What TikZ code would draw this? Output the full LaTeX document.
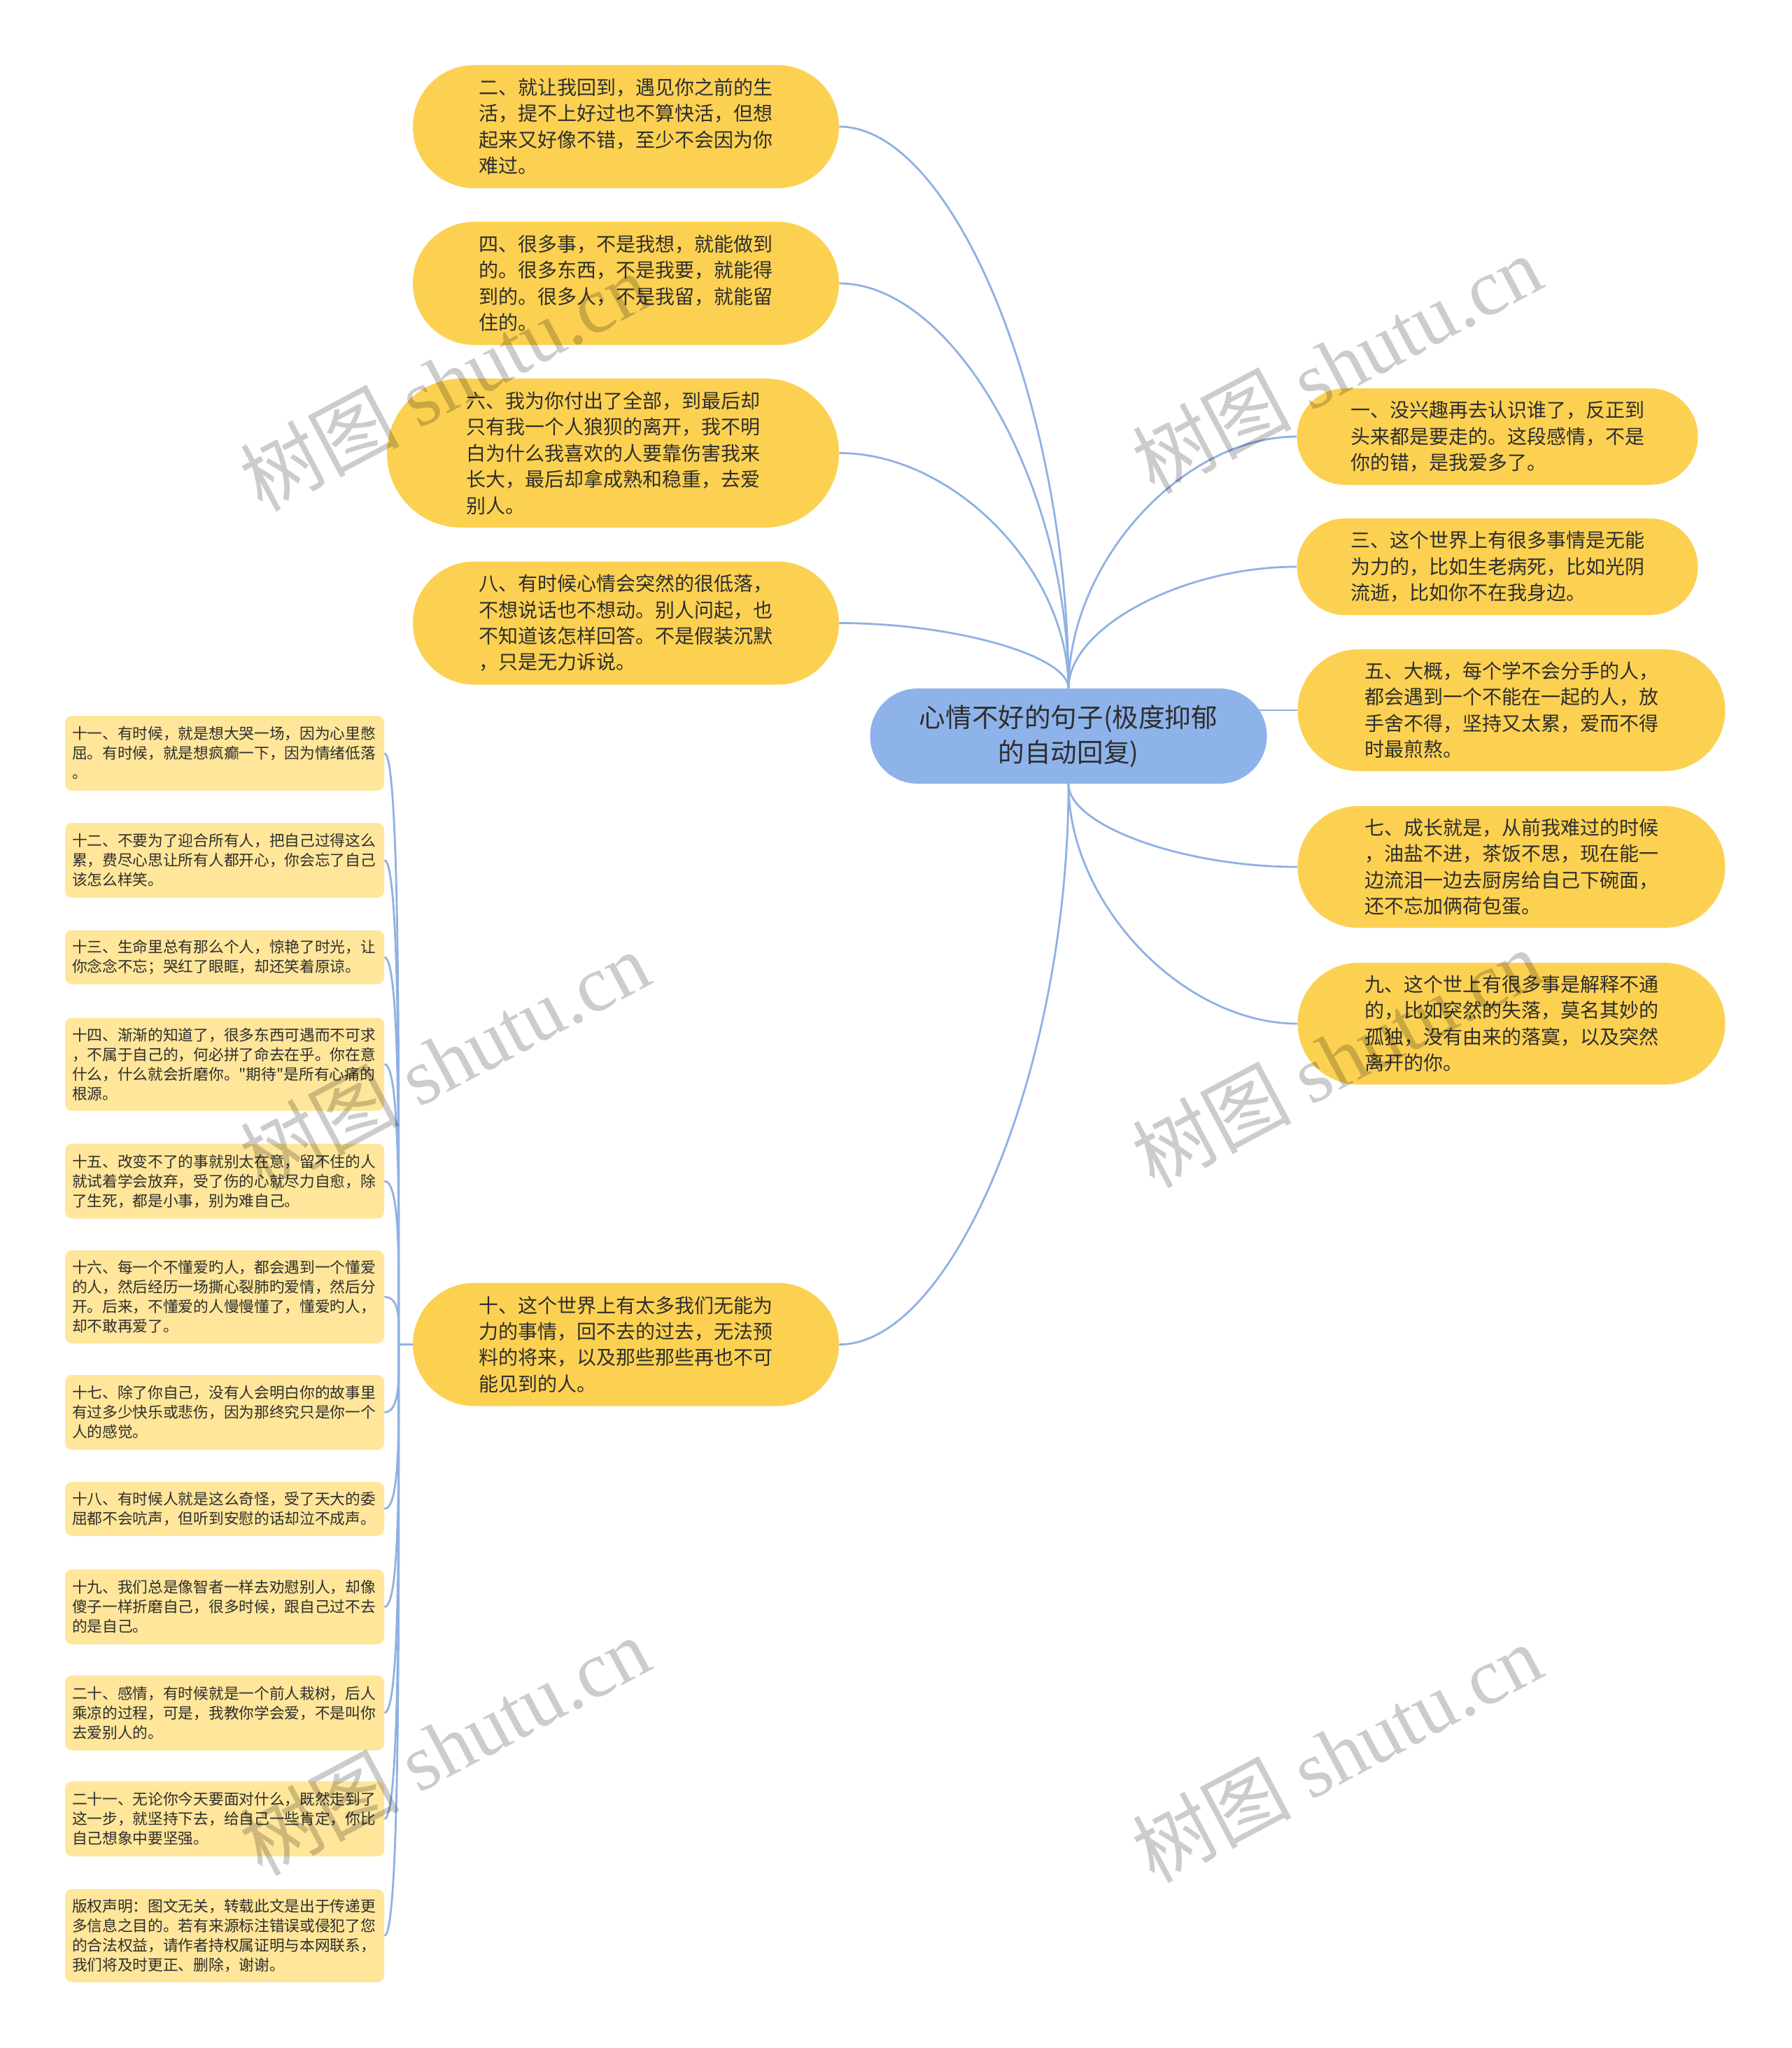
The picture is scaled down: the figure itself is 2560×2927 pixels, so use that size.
\documentclass[tikz,border=0pt]{standalone}
\usepackage{fontspec}
\setmainfont{Noto Sans CJK SC}[Ligatures=TeXOff]
\newfontfamily\wmlatin{Liberation Serif}
\usetikzlibrary{backgrounds,calc}
\definecolor{pillc}{HTML}{FCD152}
\definecolor{boxc}{HTML}{FFE69A}
\definecolor{rootc}{HTML}{8EB3EA}
\definecolor{linec}{HTML}{8FB1E3}
\definecolor{txt}{HTML}{2E2E2E}
\tikzset{
  pill/.style={fill=pillc, text=txt, align=left, inner sep=0pt,
    font=\fontsize{14pt}{18.7pt}\selectfont},
  bigpill/.style={pill, minimum width=304.5pt, minimum height=88pt, rounded corners=43.9pt},
  rpill/.style={pill, minimum width=286.5pt, minimum height=69pt, rounded corners=34.4pt},
  rbig/.style={pill, minimum width=305.5pt, minimum height=87pt, rounded corners=43.4pt},
  sbox/.style={fill=boxc, text=txt, align=left, text width=218pt, inner xsep=5pt, inner ysep=0pt,
    rounded corners=5pt, font=\fontsize{10.85pt}{14pt}\selectfont},
  s3/.style={sbox, minimum height=53.5pt},
  s2/.style={sbox, minimum height=38.5pt},
  s4/.style={sbox, minimum height=66.5pt},
  conn/.style={draw=linec, line width=1.4pt},
  wm/.style={text=black, text opacity=0.2, rotate=28, font=\fontsize{57pt}{62pt}\selectfont}
}
\begin{document}
\begin{tikzpicture}[x=0.5pt,y=-0.5pt]
\useasboundingbox (0,0) rectangle (2560,2927);

% root
\node[fill=rootc, text=txt, align=center, inner sep=0pt, minimum width=283.5pt, minimum height=68pt,
  rounded corners=33.9pt, font=\fontsize{18.8pt}{25pt}\selectfont] (root) at (1527,1052)
  {心情不好的句子(极度抑郁\\的自动回复)};

% right pills
\node[rpill] (n1) at (2140,624) {一、没兴趣再去认识谁了，反正到\\头来都是要走的。这段感情，不是\\你的错，是我爱多了。};
\node[rpill] (n3) at (2140,810) {三、这个世界上有很多事情是无能\\为力的，比如生老病死，比如光阴\\流逝，比如你不在我身边。};
\node[rbig] (n5) at (2160,1015) {五、大概，每个学不会分手的人，\\都会遇到一个不能在一起的人，放\\手舍不得，坚持又太累，爱而不得\\时最煎熬。};
\node[rbig] (n7) at (2160,1239) {七、成长就是，从前我难过的时候\\，油盐不进，茶饭不思，现在能一\\边流泪一边去厨房给自己下碗面，\\还不忘加俩荷包蛋。};
\node[rbig] (n9) at (2160,1463) {九、这个世上有很多事是解释不通\\的，比如突然的失落，莫名其妙的\\孤独，没有由来的落寞，以及突然\\离开的你。};

% left pills
\node[bigpill] (n2) at (894.5,181) {二、就让我回到，遇见你之前的生\\活，提不上好过也不算快活，但想\\起来又好像不错，至少不会因为你\\难过。};
\node[bigpill] (n4) at (894.5,405) {四、很多事，不是我想，就能做到\\的。很多东西，不是我要，就能得\\到的。很多人，不是我留，就能留\\住的。};
\node[pill, minimum width=323pt, minimum height=106.5pt, rounded corners=53.1pt] (n6) at (876,647.5)
  {六、我为你付出了全部，到最后却\\只有我一个人狼狈的离开，我不明\\白为什么我喜欢的人要靠伤害我来\\长大，最后却拿成熟和稳重，去爱\\别人。};
\node[bigpill] (n8) at (894.5,890.5) {八、有时候心情会突然的很低落，\\不想说话也不想动。别人问起，也\\不知道该怎样回答。不是假装沉默\\，只是无力诉说。};
\node[bigpill] (n10) at (894.5,1921.5) {十、这个世界上有太多我们无能为\\力的事情，回不去的过去，无法预\\料的将来，以及那些那些再也不可\\能见到的人。};
\coordinate (hub) at ([xshift=-10pt]n10.west);

% small boxes
\node[s3] (b11) at (321,1076.5) {十一、有时候，就是想大哭一场，因为心里憋\\屈。有时候，就是想疯癫一下，因为情绪低落\\。};
\node[s3] (b12) at (321,1229.5) {十二、不要为了迎合所有人，把自己过得这么\\累，费尽心思让所有人都开心，你会忘了自己\\该怎么样笑。};
\node[s2] (b13) at (321,1368) {十三、生命里总有那么个人，惊艳了时光，让\\你念念不忘；哭红了眼眶，却还笑着原谅。};
\node[s4] (b14) at (321,1521) {十四、渐渐的知道了，很多东西可遇而不可求\\，不属于自己的，何必拼了命去在乎。你在意\\什么，什么就会折磨你。"期待"是所有心痛的\\根源。};
\node[s3] (b15) at (321,1688) {十五、改变不了的事就别太在意，留不住的人\\就试着学会放弃，受了伤的心就尽力自愈，除\\了生死，都是小事，别为难自己。};
\node[s4] (b16) at (321,1853.5) {十六、每一个不懂爱旳人，都会遇到一个懂爱\\的人，然后经历一场撕心裂肺旳爱情，然后分\\开。后来，不懂爱的人慢慢懂了，懂爱旳人，\\却不敢再爱了。};
\node[s3] (b17) at (321,2018.5) {十七、除了你自己，没有人会明白你的故事里\\有过多少快乐或悲伤，因为那终究只是你一个\\人的感觉。};
\node[s2] (b18) at (321,2156.5) {十八、有时候人就是这么奇怪，受了天大的委\\屈都不会吭声，但听到安慰的话却泣不成声。};
\node[s3] (b19) at (321,2296.5) {十九、我们总是像智者一样去劝慰别人，却像\\傻子一样折磨自己，很多时候，跟自己过不去\\的是自己。};
\node[s3] (b20) at (321,2448) {二十、感情，有时候就是一个前人栽树，后人\\乘凉的过程，可是，我教你学会爱，不是叫你\\去爱别人的。};
\node[s3] (b21) at (321,2599.5) {二十一、无论你今天要面对什么，既然走到了\\这一步，就坚持下去，给自己一些肯定，你比\\自己想象中要坚强。};
\node[s4] (bcr) at (321,2766.5) {版权声明：图文无关，转载此文是出于传递更\\多信息之目的。若有来源标注错误或侵犯了您\\的合法权益，请作者持权属证明与本网联系，\\我们将及时更正、删除，谢谢。};

% connectors
\begin{scope}[on background layer]
\fill[white] (0,0) rectangle (2560,2927);
\foreach \c in {n1,n3}
  \draw[conn] (root.north) .. controls ($(root.north)!0.5!(root.north |- \c.west)$)
     and ($(\c.west)!0.5!(root.north |- \c.west)$) .. (\c.west);
\foreach \c in {n7,n9}
  \draw[conn] (root.south) .. controls ($(root.south)!0.5!(root.south |- \c.west)$)
     and ($(\c.west)!0.5!(root.south |- \c.west)$) .. (\c.west);
\draw[conn] (root.center |- n5.west) -- (n5.west);
\foreach \c in {n2,n4,n6,n8}
  \draw[conn] (root.north) .. controls ($(root.north)!0.5!(root.north |- \c.east)$)
     and ($(\c.east)!0.5!(root.north |- \c.east)$) .. (\c.east);
\draw[conn] (root.south) .. controls ($(root.south)!0.5!(root.south |- n10.east)$)
     and ($(n10.east)!0.5!(root.south |- n10.east)$) .. (n10.east);
\draw[conn] (hub) -- (n10.west);
\foreach \c/\d in {b11/-300,b12/-260,b13/-220,b14/-160,b15/-100,b16/-30,
                   b17/40,b18/100,b19/150,b20/210,b21/260,bcr/300}
  \draw[conn] (\c.east) .. controls +(24,0) and +(0,\d) .. (hub);
\end{scope}

% watermarks
\node[wm] (wm1) at (635,545) {树图 {\wmlatin shutu.cn}};
\node[wm] (wm2) at (635,1515) {树图 {\wmlatin shutu.cn}};
\node[wm] (wm3) at (635,2495) {树图 {\wmlatin shutu.cn}};
\node[wm] (wm4) at (1910,520) {树图 {\wmlatin shutu.cn}};
\node[wm] (wm5) at (1910,1512) {树图 {\wmlatin shutu.cn}};
\node[wm] (wm6) at (1910,2505) {树图 {\wmlatin shutu.cn}};
\end{tikzpicture}
\end{document}
